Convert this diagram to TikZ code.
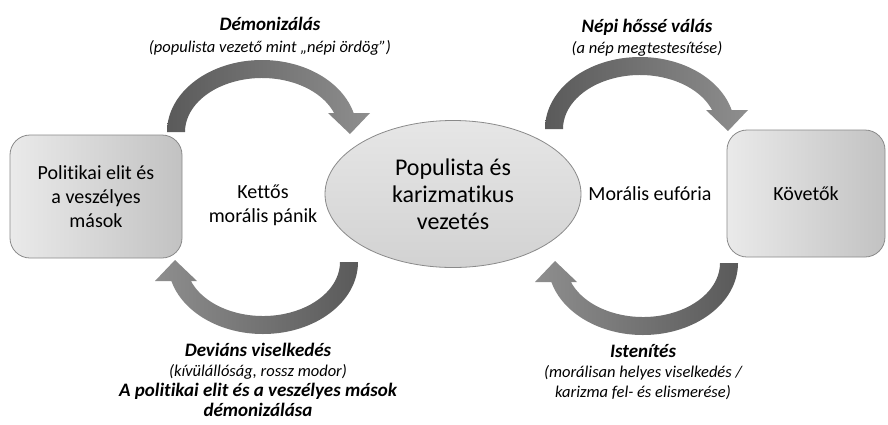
\documentclass[tikz,border=0pt]{standalone}
\usepackage{fontspec}
\setmainfont{Carlito}[Ligatures=NoCommon]
\usetikzlibrary{shapes.geometric}
\definecolor{arrdark}{HTML}{5A5A5A}
\definecolor{arrlight}{HTML}{8E8E8E}
\definecolor{boxlight}{HTML}{EAEAEA}
\definecolor{boxdark}{HTML}{C2C2C2}
\definecolor{elllight}{HTML}{E6E6E6}
\definecolor{elldark}{HTML}{D2D2D2}
\definecolor{edgegray}{HTML}{8A8A8A}
\newcommand\hd[1]{{\fontsize{19}{20}\selectfont\bfseries #1}}
\tikzset{
  lbl/.style={font=\fontsize{16.5}{20}\selectfont\itshape, align=center, inner sep=0pt},
  midtxt/.style={font=\fontsize{20}{24}\selectfont, align=center, inner sep=0pt},
  sidebox/.style={draw=edgegray, line width=0.8pt, rounded corners=20pt,
    left color=boxlight, right color=boxdark, align=center,
    font=\fontsize{20}{24}\selectfont, inner sep=0pt},
  leadell/.style={ellipse, draw=edgegray, line width=0.8pt, top color=elllight,
    bottom color=elldark, align=center, font=\fontsize{24}{27}\selectfont, inner sep=0pt},
}
\newcommand\topbend{(-95,0) arc[start angle=180,end angle=344.7,x radius=95,y radius=72]
  -- (108,-19) -- (88,2) -- (66,-19) -- (72.07,-19)
  arc[start angle=339.4,end angle=180,x radius=77,y radius=54] -- cycle}
\newcommand\botbend{(95,0) arc[start angle=0,end angle=164.7,x radius=95,y radius=72]
  -- (-108,19) -- (-88,-2) -- (-66,19) -- (-72.07,19)
  arc[start angle=159.4,end angle=0,x radius=77,y radius=54] -- cycle}
\begin{document}
\begin{tikzpicture}[x=1pt,y=-1pt]
\path[use as bounding box, fill=white] (0,0) rectangle (888,424);

% curved block arrows
\begin{scope}[shift={(262,132)}]
  \path[left color=arrdark, right color=arrlight] \topbend;
\end{scope}
\begin{scope}[shift={(640,129)}]
  \path[left color=arrdark, right color=arrlight] \topbend;
\end{scope}
\begin{scope}[shift={(263,262)}]
  \path[left color=arrlight, right color=arrdark] \botbend;
\end{scope}
\begin{scope}[shift={(643,263)}]
  \path[left color=arrlight, right color=arrdark] \botbend;
\end{scope}

% main shapes
\node[sidebox, minimum width=172pt, minimum height=123pt] (elit) at (96,196.5)
  {Politikai elit és\\a veszélyes\\mások};
\node[leadell, minimum width=256pt, minimum height=147pt] (lead) at (453,194)
  {Populista és\\karizmatikus\\vezetés};
\node[sidebox, minimum width=158pt, minimum height=127pt] (kov) at (806,193.5)
  {Követők};

% middle texts
\node[midtxt] (panik) at (263,205) {Kettős\\morális pánik};
\node[midtxt] (euf) at (650,194) {Morális eufória};

% arrow labels
\node[lbl] (demon) at (270,36)
  {\hd{Démonizálás}\\[1.5pt](populista vezető mint „népi ördög”)};
\node[lbl] (hos) at (647,37.5)
  {\hd{Népi hőssé válás}\\[1pt](a nép megtestesítése)};
\node[lbl] (dev) at (258,380)
  {\hd{Deviáns viselkedés}\\(kívülállóság, rossz modor)\\\hd{A politikai elit és a veszélyes mások}\\\hd{démonizálása}};
\node[lbl] (isten) at (643,372)
  {\hd{Istenítés}\\(morálisan helyes viselkedés /\\karizma fel- és elismerése)};
\end{tikzpicture}
\end{document}
